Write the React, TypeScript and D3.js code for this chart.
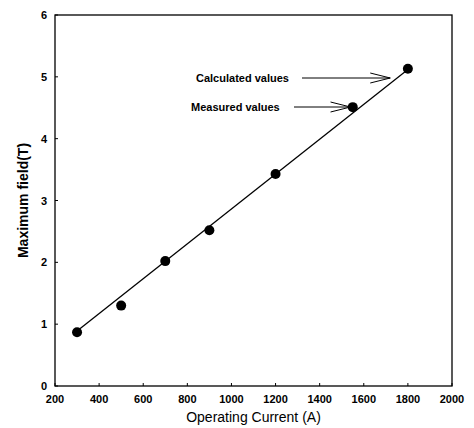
import React from 'react';
import * as d3 from 'd3';

// measured points
const measuredCurrent = [300, 500, 700, 900, 1200, 1550, 1800];
const measuredField = [0.87, 1.3, 2.02, 2.52, 3.43, 4.51, 5.13];

// calculated line
const calcCurrent = [300, 1800];
const calcField = [0.89, 5.12];

const xTicks = [200, 400, 600, 800, 1000, 1200, 1400, 1600, 1800, 2000];
const yTicks = [0, 1, 2, 3, 4, 5, 6];

const W = 474;
const H = 428;
const margin = { left: 55, right: 22, top: 15, bottom: 42 };

const App = () => {
    const x = d3.scaleLinear()
        .domain([200, 2000])
        .range([margin.left, W - margin.right]);
    const y = d3.scaleLinear()
        .domain([0, 6])
        .range([H - margin.bottom, margin.top]);

    const line = d3.line<number>()
        .x((d, i) => x(calcCurrent[i]))
        .y(d => y(d));

    const font = 'Liberation Sans, Arial, sans-serif';
    const x0 = x(200), x1 = x(2000), y0 = y(0), y1 = y(6);

    // annotation arrows: label, arrow start and the point it points to
    const calcTip = { cx: 1720, cy: 4.95 };
    const measTip = { cx: 1540, cy: 4.51 };

    const arrow = (fromX, yy, toX) => (
        <g>
            <line x1={fromX} y1={yy} x2={toX} y2={yy} stroke="#000" strokeWidth={1} />
            <polyline points={`${toX - 20},${yy - 5} ${toX},${yy} ${toX - 20},${yy + 5}`}
                fill="none" stroke="#000" strokeWidth={1} />
        </g>
    );

    return (
        <svg width={W} height={H} style={{ position: 'absolute', left: 0, top: 0, background: '#fff' }}>
            <rect x={0} y={0} width={W} height={H} fill="#fff" />
            {/* frame */}
            <rect x={x0} y={y1} width={x1 - x0} height={y0 - y1} fill="none" stroke="#000" strokeWidth={1.3} />
            {/* x ticks */}
            {xTicks.map(t => (
                <g key={'x' + t}>
                    <line x1={x(t)} x2={x(t)} y1={y0} y2={y0 - 3} stroke="#000" />
                    <text x={x(t)} y={y0 + 17} textAnchor="middle" fontFamily={font}
                        fontSize={11} fontWeight="bold">{t}</text>
                </g>
            ))}
            {/* y ticks */}
            {yTicks.map(t => (
                <g key={'y' + t}>
                    <line x1={x0} x2={x0 + 3} y1={y(t)} y2={y(t)} stroke="#000" />
                    <text x={x0 - 8} y={y(t) + 4} textAnchor="end" fontFamily={font}
                        fontSize={11} fontWeight="bold">{t}</text>
                </g>
            ))}
            {/* calculated line */}
            <path d={line(calcField) || ''} fill="none" stroke="#000" strokeWidth={1.3} />
            {/* measured points */}
            {measuredCurrent.map((c, i) => (
                <circle key={c} cx={x(c)} cy={y(measuredField[i])} r={5} fill="#000" />
            ))}
            {/* annotations */}
            <text x={196} y={82} fontFamily={font} fontSize={11} fontWeight="bold">Calculated values</text>
            {arrow(302, 78, x(calcTip.cx))}
            <text x={191} y={111} fontFamily={font} fontSize={11} fontWeight="bold">Measured values</text>
            {arrow(294, 107, x(measTip.cx))}
            {/* axis titles */}
            <text x={(x0 + x1) / 2} y={422} textAnchor="middle" fontFamily={font} fontSize={14}>
                Operating Current (A)
            </text>
            <text transform={`translate(28, ${(y0 + y1) / 2}) rotate(-90)`} textAnchor="middle"
                fontFamily={font} fontSize={14} fontWeight="bold">Maximum field(T)</text>
        </svg>
    );
};

export default App;
